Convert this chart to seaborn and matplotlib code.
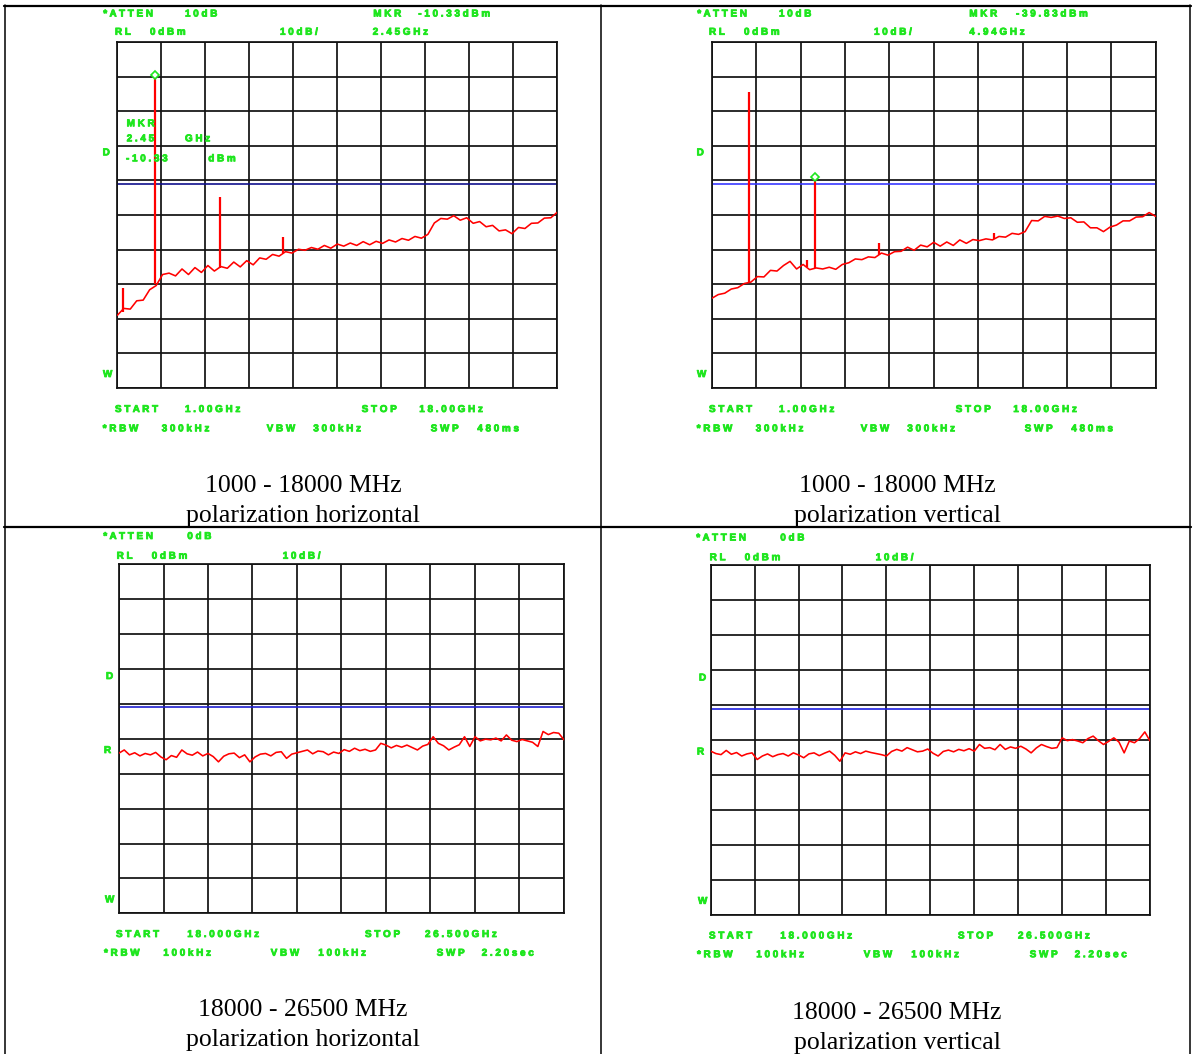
import numpy as np
import matplotlib
matplotlib.use("Agg")
import matplotlib.pyplot as plt
import matplotlib.transforms as mtransforms
import matplotlib.patheffects as pe
import seaborn as sns

# sweep settings shown on the analyzer screens
low_start, low_stop = 1.0, 18.0      # GHz
high_start, high_stop = 18.0, 26.5   # GHz
display_line = -41                   # dBm

# 1 - 18 GHz, horizontal, levels every 0.25 GHz (dBm)
low_h_levels = [
    -79.0, -77.0, -77.2, -74.8, -74.6, -71.6, -70.4, -67.2, -66.8, -67.6,
    -65.6, -67.2, -65.2, -66.6, -64.6, -66.2, -64.9, -65.4, -63.6, -65.0,
    -63.2, -64.4, -62.4, -62.8, -61.4, -61.9, -60.6, -61.0, -59.9, -60.2,
    -59.4, -59.9, -58.8, -59.6, -58.4, -59.0, -58.1, -58.8, -57.7, -58.6,
    -57.6, -58.2, -57.2, -57.8, -56.8, -57.3, -56.2, -56.7, -55.6, -52.3,
    -51.0, -51.2, -50.2, -51.5, -50.8, -52.4, -51.9, -53.4, -53.0, -54.6,
    -54.3, -55.4, -53.6, -53.9, -52.4, -52.3, -50.9, -50.8, -49.2,
]
low_h_spike_f = [1.23, 2.45, 4.95, 7.41]
low_h_spike_floor = [-78.0, -70.0, -65.3, -61.0]
low_h_spike_peak = [-71.0, -10.33, -44.7, -56.3]
low_h_marker = (2.45, -10.33)

# 1 - 18 GHz, vertical
low_v_levels = [
    -74.1, -73.0, -72.6, -71.4, -71.0, -69.8, -69.4, -67.8, -67.9, -66.0,
    -66.2, -64.6, -63.4, -65.6, -64.3, -65.8, -65.3, -65.6, -65.1, -65.7,
    -64.3, -63.8, -62.7, -62.9, -62.1, -62.3, -61.0, -61.6, -60.6, -60.5,
    -59.3, -60.2, -58.7, -59.2, -57.9, -59.0, -57.8, -58.8, -57.2, -58.2,
    -57.1, -57.4, -56.9, -57.2, -56.2, -56.4, -55.3, -55.6, -54.8, -51.6,
    -51.7, -50.4, -50.7, -50.3, -51.0, -50.8, -52.1, -52.0, -53.7, -53.7,
    -54.8, -53.5, -52.9, -51.7, -51.7, -50.6, -50.5, -49.3, -50.4,
]
low_v_spike_f = [2.43, 4.64, 4.94, 7.40, 11.79]
low_v_spike_floor = [-69.3, -65.0, -65.3, -61.6, -57.0]
low_v_spike_peak = [-14.4, -63.0, -39.83, -58.2, -55.3]
low_v_marker = (4.94, -39.83)

# 18 - 26.5 GHz, levels every 0.1 GHz
high_h_levels = [
    -54.1, -53.2, -54.6, -54.0, -54.9, -54.2, -54.6, -53.9, -55.2, -56.0,
    -54.8, -55.3, -53.2, -54.3, -54.7, -53.8, -54.9, -54.2, -55.1, -56.6,
    -55.0, -54.3, -54.1, -55.4, -54.6, -56.6, -55.2, -54.4, -54.2, -54.9,
    -53.9, -53.7, -55.6, -54.4, -54.0, -53.6, -53.2, -54.3, -53.5, -53.7,
    -54.6, -53.8, -54.2, -53.1, -53.6, -52.7, -53.4, -53.0, -53.6, -53.2,
    -51.3, -51.8, -52.6, -51.9, -52.4, -51.8, -52.5, -53.2, -52.1, -51.6,
    -49.4, -51.3, -52.0, -53.2, -52.4, -51.7, -49.4, -52.2, -49.4, -50.6,
    -50.1, -50.3, -49.8, -50.6, -48.9, -50.4, -50.8, -50.2, -50.6, -51.0,
    -52.2, -47.9, -48.8, -48.2, -48.4, -50.3,
]
high_v_levels = [
    -53.2, -53.9, -54.2, -53.0, -54.1, -53.6, -54.6, -54.0, -53.7, -55.6,
    -54.6, -54.0, -54.8, -54.2, -53.9, -54.6, -53.7, -54.3, -55.1, -54.0,
    -53.7, -54.5, -53.8, -53.2, -54.4, -56.1, -53.7, -54.1, -53.4, -53.9,
    -53.2, -53.6, -53.9, -54.2, -54.6, -53.3, -52.7, -53.2, -52.2, -52.8,
    -53.4, -53.2, -52.6, -53.8, -54.6, -53.3, -52.9, -53.4, -52.7, -53.1,
    -52.5, -53.2, -51.3, -52.4, -52.2, -52.8, -51.3, -52.7, -52.0, -52.4,
    -51.8, -52.6, -53.7, -52.3, -51.3, -51.9, -52.4, -52.2, -49.4, -50.2,
    -49.9, -50.3, -50.8, -49.6, -48.9, -50.2, -51.3, -50.4, -49.4, -50.6,
    -53.7, -50.3, -50.8, -49.6, -47.7, -50.3,
]

captions = [
    ("1000 - 18000 MHz", "polarization horizontal"),
    ("1000 - 18000 MHz", "polarization vertical"),
    ("18000 - 26500 MHz", "polarization horizontal"),
    ("18000 - 26500 MHz", "polarization vertical"),
]

W, H = 1195, 1054
GREEN = "#1ee61e"
RED = "#ff0000"

sns.set_style("white")
plt.rcParams["font.family"] = ["Liberation Sans", "DejaVu Sans"]

fig = plt.figure(figsize=(W / 100, H / 100), dpi=100)


def px_rect(x0, y0, x1, y1):
    return [x0 / W, 1 - y1 / H, (x1 - x0) / W, (y1 - y0) / H]


def draw_panel(rect, start, stop, levels, line_color,
               spike_f=None, spike_lo=None, spike_hi=None, marker=None):
    ax = fig.add_axes(px_rect(*rect))
    freqs = np.linspace(start, stop, len(levels))  # analyzer sweep points
    sns.lineplot(x=freqs, y=levels, ax=ax, color=RED, lw=1.15, zorder=3)
    if spike_f:
        ax.vlines(spike_f, spike_lo, spike_hi, color=RED, lw=1.6, zorder=3)
    if marker:
        up = mtransforms.offset_copy(ax.transData, fig=fig, x=0, y=3, units="dots")
        ax.plot(marker[0], marker[1], marker="D", ms=4, mfc="white",
                mec=GREEN, mew=1.2, transform=up, zorder=4, clip_on=False)
    ax.axhline(display_line, color=line_color, lw=1.2, zorder=2)
    ax.set_xlim(start, stop)
    ax.set_ylim(-100, 0)
    ax.set_xticks(np.linspace(start, stop, 11))
    ax.set_yticks(np.arange(-100, 1, 10))
    ax.grid(True, color="#111111", lw=1.25, zorder=1)
    ax.set_axisbelow(True)
    ax.tick_params(length=0, labelbottom=False, labelleft=False)
    for s in ax.spines.values():
        s.set_color("#111111")
        s.set_linewidth(1.25)
    ax.set_xlabel("")
    ax.set_ylabel("")
    return ax


draw_panel((117.3, 42, 557.3, 388), low_start, low_stop, low_h_levels, "#10108c",
           low_h_spike_f, low_h_spike_floor, low_h_spike_peak, low_h_marker)
draw_panel((711.7, 42, 1155.7, 388), low_start, low_stop, low_v_levels, "#3a3aff",
           low_v_spike_f, low_v_spike_floor, low_v_spike_peak, low_v_marker)
draw_panel((119, 564.3, 564, 913.3), high_start, high_stop, high_h_levels, "#2020d0")
draw_panel((710.7, 565.4, 1150, 914.5), high_start, high_stop, high_v_levels, "#2020e0")

# overlay in pixel coordinates for the table and the screen annotations
bg = fig.add_axes([0, 0, 1, 1])
bg.set_xlim(0, W)
bg.set_ylim(H, 0)
bg.axis("off")
bg.patch.set_alpha(0)

# table rules
bg.plot([4, 1191], [5.5, 5.5], color="black", lw=1.6)
bg.plot([4, 1191], [527, 527], color="black", lw=1.6)
for xv in [5, 601, 1190]:
    bg.plot([xv, xv], [5, H], color="black", lw=1.1)


def spaced(s):
    return " ".join(s)


heavy = [pe.withStroke(linewidth=0.6, foreground=GREEN)]


def label(x, y, s):
    bg.text(x, y, spaced(s), color=GREEN, fontsize=7.1, fontweight="bold",
            ha="left", va="center", path_effects=heavy)


def screen_text(dx, dy, header, footer, side):
    for x, y, s in header + footer + side:
        label(x + dx, y + dy, s)


top_header = [(103.3, 13.5, "*ATTEN"), (185, 13.5, "10dB"),
              (115, 31.7, "RL"), (150, 31.7, "0dBm"), (280, 31.7, "10dB/")]
top_footer = [(115, 409, "START"), (185, 409, "1.00GHz"),
              (361.7, 409, "STOP"), (419.3, 409, "18.00GHz"),
              (102.7, 428.3, "*RBW"), (161.7, 428.3, "300kHz"),
              (266.7, 428.3, "VBW"), (313.3, 428.3, "300kHz"),
              (430.7, 428.3, "SWP"), (477.3, 428.3, "480ms")]
top_side = [(102.7, 152.3, "D"), (103, 374, "W")]

screen_text(0, 0, top_header, top_footer, top_side)
screen_text(594, 0, top_header, top_footer, top_side)
label(373.3, 13.5, "MKR")
label(418.3, 13.5, "-10.33dBm")
label(372.7, 31.7, "2.45GHz")
label(969.3, 13.5, "MKR")
label(1016, 13.5, "-39.83dBm")
label(969.3, 31.7, "4.94GHz")
# marker readout block on the horizontal screen
label(126.7, 123.3, "MKR")
label(126.7, 138.3, "2.45")
label(185, 138.3, "GHz")
label(126, 158.3, "-10.33")
label(208.3, 158.3, "dBm")

bot_header = [(103.3, 536, "*ATTEN"), (187.3, 536, "0dB"),
              (116.7, 555.7, "RL"), (151.7, 555.7, "0dBm"), (282.7, 555.7, "10dB/")]
bot_footer = [(116, 934, "START"), (187.3, 934, "18.000GHz"),
              (365, 934, "STOP"), (425, 934, "26.500GHz"),
              (104, 952.7, "*RBW"), (163.3, 952.7, "100kHz"),
              (270.7, 952.7, "VBW"), (318.3, 952.7, "100kHz"),
              (436.7, 952.7, "SWP"), (481.7, 952.7, "2.20sec")]
bot_side = [(106, 676, "D"), (104, 750, "R"), (105, 899.3, "W")]

screen_text(0, 0, bot_header, bot_footer, bot_side)
screen_text(593, 1.5, bot_header, bot_footer, bot_side)

# captions under each screen
cap_pos = [(303, 486, 516), (897, 486, 516), (303, 1010, 1040), (897, 1013, 1043)]
for (cx, y1, y2), (t1, t2) in zip(cap_pos, captions):
    bg.text(cx, y1, t1, ha="center", va="center", fontsize=18.5,
            family=["Liberation Serif", "DejaVu Serif"], color="black")
    bg.text(cx, y2, t2, ha="center", va="center", fontsize=18.5,
            family=["Liberation Serif", "DejaVu Serif"], color="black")

fig.savefig("out.png", dpi=100)
